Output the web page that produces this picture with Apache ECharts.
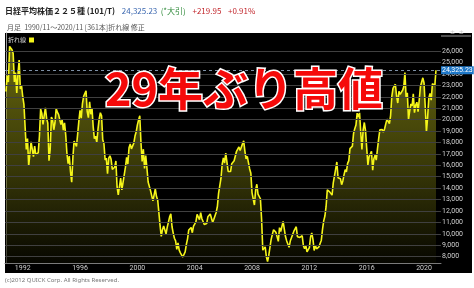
<!DOCTYPE html>
<html><head><meta charset="utf-8">
<script src="https://cdn.jsdelivr.net/npm/echarts@6/dist/echarts.min.js"></script>
<style>html,body{margin:0;padding:0;background:#fff}#c{width:474px;height:288px}</style>
</head><body><div id="c"></div>
<script>
// Monthly closes, Nikkei 225, 1990/11 - 2020/11
const v1990 = [22455, 23849];
const v1991 = [23293, 26409, 26292, 26111, 25790, 23291, 24121, 22336, 23916, 25222, 22687, 22984];
const v1992 = [22023, 21339, 19346, 17391, 18348, 15952, 15910, 18061, 17399, 16767, 17685, 16925];
const v1993 = [17024, 17113, 18591, 20919, 20552, 19590, 20380, 21027, 20106, 19704, 16408, 17417];
const v1994 = [20229, 19998, 19112, 19725, 20974, 20644, 20462, 20629, 19564, 19990, 19076, 19723];
const v1995 = [18650, 17053, 16140, 16807, 15437, 14517, 16678, 18117, 17913, 17655, 18744, 19868];
const v1996 = [20813, 20125, 21407, 22041, 21956, 22530, 20693, 20167, 21556, 20467, 21020, 19361];
const v1997 = [18330, 18557, 18003, 19151, 20069, 20605, 20331, 18229, 17888, 16459, 16636, 15259];
const v1998 = [16628, 16831, 16527, 15641, 15671, 15830, 16379, 14108, 13406, 13565, 14883, 13842];
const v1999 = [14499, 14368, 15837, 16701, 16112, 17530, 17862, 17437, 17605, 17942, 18558, 18934];
const v2000 = [19540, 19960, 20337, 17974, 16332, 17411, 15727, 16861, 15747, 14539, 14649, 13786];
const v2001 = [13843, 12884, 12999, 13934, 13262, 12969, 11861, 10714, 9775, 10367, 10697, 10543];
const v2002 = [9998, 10588, 11025, 11493, 11764, 10622, 10065, 9619, 9383, 8640, 9216, 8579];
const v2003 = [8340, 8363, 7973, 7831, 8425, 9083, 9563, 10344, 10219, 10560, 10101, 10677];
const v2004 = [10784, 11042, 11715, 11762, 11236, 11859, 11326, 11082, 10824, 10771, 10899, 11489];
const v2005 = [11388, 11741, 11669, 11009, 11277, 11584, 11900, 12414, 13574, 13607, 14872, 16111];
const v2006 = [16650, 16205, 17060, 16907, 15467, 15506, 15457, 16141, 16128, 16399, 16274, 17226];
const v2007 = [17383, 17604, 17288, 17400, 17876, 18138, 17249, 16569, 16786, 16738, 15681, 15308];
const v2008 = [13592, 13603, 12526, 13850, 14339, 13481, 13377, 13073, 11260, 8577, 8512, 8860];
const v2009 = [7994, 7568, 8110, 8828, 9523, 9958, 10357, 10493, 10133, 10035, 9346, 10546];
const v2010 = [10198, 10126, 11090, 11057, 9769, 9383, 9537, 8824, 9369, 9202, 9937, 10229];
const v2011 = [10238, 10624, 9755, 9850, 9694, 9816, 9833, 8955, 8700, 8988, 8435, 8455];
const v2012 = [8803, 9723, 10084, 9521, 8543, 9007, 8695, 8840, 8870, 8928, 9446, 10395];
const v2013 = [11139, 11559, 12398, 13861, 13775, 13677, 13668, 13389, 14456, 14328, 15662, 16291];
const v2014 = [14915, 14841, 14828, 14304, 14632, 15162, 15621, 15425, 16174, 16414, 17460, 17451];
const v2015 = [17674, 18798, 19207, 19520, 20563, 20236, 20585, 18890, 17388, 19083, 19747, 19034];
const v2016 = [17518, 16027, 16759, 16666, 17235, 15576, 16569, 16887, 16450, 17425, 18308, 19114];
const v2017 = [19041, 19119, 18909, 19197, 19651, 20033, 19925, 19646, 20356, 22012, 22725, 22765];
const v2018 = [23098, 22068, 21454, 22468, 22202, 22305, 22554, 22865, 24120, 21920, 22351, 20015];
const v2019 = [20773, 21385, 21206, 22259, 20601, 21276, 21522, 20704, 21756, 22927, 23294, 23657];
const v2020 = [23205, 21143, 18917, 20194, 21878, 22288, 21710, 23140, 23185, 22977, 24325.23];

const yearTickLabels = [1992, 1996, 2000, 2004, 2008, 2012, 2016, 2020];
const yTickValues = [8000, 9000, 10000, 11000, 12000, 13000, 14000, 15000, 16000, 17000, 18000,
  19000, 20000, 21000, 22000, 23000, 24000, 25000, 26000];
const lastValue = 24325.23;

const values = [].concat(v1990, v1991, v1992, v1993, v1994, v1995, v1996, v1997, v1998, v1999,
  v2000, v2001, v2002, v2003, v2004, v2005, v2006, v2007, v2008, v2009, v2010, v2011, v2012,
  v2013, v2014, v2015, v2016, v2017, v2018, v2019, v2020);
// index 0 = 1990/11
const startMonth = 10; // zero-based November
const seriesData = values.map((v, i) => [i, v]);
const xTickIdx = yearTickLabels.map(y => (y - 1990) * 12 - startMonth);

const chart = echarts.init(document.getElementById('c'), null, {renderer: 'canvas'});
const gridLines = yTickValues.map(v => ({yAxis: v}));

chart.setOption({
  animation: false,
  backgroundColor: '#fff',
  grid: {left: 5, right: 33, top: 33, bottom: 25, containLabel: false},
  xAxis: {
    type: 'value', min: -0.84, max: 364.2,
    axisLine: {show: true, lineStyle: {color: '#7a7a7a', width: 1}},
    axisTick: {show: false, customValues: xTickIdx},
    splitLine: {show: false},
    axisLabel: {
      customValues: xTickIdx, color: '#cfcfcf', fontSize: 7, margin: 2,
      fontFamily: 'Roboto',
      formatter: v => String(1990 + Math.floor((v + startMonth) / 12))
    }
  },
  yAxis: {
    type: 'value', position: 'right', min: 7450, max: 27580,
    axisLine: {show: true, lineStyle: {color: '#9a9a9a', width: 1}},
    axisTick: {show: true, customValues: yTickValues, length: 2, lineStyle: {color: '#bbb'}},
    splitLine: {show: false},
    axisLabel: {
      customValues: yTickValues, color: '#d0d0d0', fontSize: 7, margin: 1,
      fontFamily: 'Roboto',
      formatter: v => v.toLocaleString('en-US')
    }
  },
  series: [
    {
      type: 'line', data: [], z: 1, silent: true,
      markLine: {
        silent: true, symbol: ['none', 'none'], label: {show: false},
        lineStyle: {color: '#404040', width: 1, type: 'solid'},
        data: gridLines
      }
    },
    {
      type: 'line', data: seriesData, z: 3, showSymbol: false, symbol: 'none',
      lineStyle: {color: '#f5f51a', width: 1.6},
      areaStyle: {
        color: new echarts.graphic.LinearGradient(0, 0, 0, 1, [
          {offset: 0, color: 'rgba(175,175,25,0.85)'},
          {offset: 0.5, color: 'rgba(110,110,15,0.8)'},
          {offset: 1, color: 'rgba(10,10,0,0.9)'}
        ])
      },
      markLine: {
        silent: true, symbol: ['none', 'none'],
        lineStyle: {color: '#7d8fa5', width: 1, type: [3, 3]},
        label: {
          show: true, position: 'end', distance: 0,
          formatter: () => lastValue.toLocaleString('en-US', {minimumFractionDigits: 2}),
          color: '#fff', fontSize: 7, fontFamily: 'Roboto',
          backgroundColor: '#1f78c8', padding: [1, 1, 0, 1]
        },
        data: [{yAxis: lastValue}]
      }
    }
  ],
  graphic: [
    {type: 'rect', z: -100, shape: {x: 5, y: 33, width: 467, height: 240}, style: {fill: '#000'}},
    {type: 'line', z: 50, shape: {x1: 441, y1: 36, x2: 471, y2: 36}, style: {stroke: '#999', lineWidth: 1}},
    {type: 'text', z: 50, x: 450, y: 35, style: {text: '±  ±', fill: '#ccc', fontSize: 6, fontFamily: 'DejaVu Sans', textVerticalAlign: 'bottom'}},
    {type: 'text', z: 50, x: 8, y: 40, style: {text: '折れ線', fill: '#ddd', fontSize: 6, fontFamily: 'Noto Sans CJK JP', textVerticalAlign: 'middle'}},
    {type: 'rect', z: 50, shape: {x: 29, y: 37.5, width: 5, height: 5}, style: {fill: '#f5f51a'}},
    {type: 'text', z: 50, x: 5, y: 11, style: {
      text: '{t|日経平均株価２２５種 (101/T)}  {b|24,325.23} {g|(*大引)}  {r|+219.95}  {r|+0.91%}',
      textVerticalAlign: 'middle',
      rich: {
        t: {fontSize: 8, fontWeight: 'bold', fill: '#222', fontFamily: 'Noto Sans CJK JP'},
        b: {fontSize: 8, fill: '#3c68b0', fontFamily: 'Noto Sans CJK JP'},
        g: {fontSize: 8, fill: '#2f8a3a', fontFamily: 'Noto Sans CJK JP'},
        r: {fontSize: 8, fill: '#c2272d', fontFamily: 'Noto Sans CJK JP'}
      }
    }},
    {type: 'text', z: 50, x: 7, y: 27, style: {text: '月足  1990/11～2020/11 [361本]折れ線 修正', fill: '#555', fontSize: 7, fontFamily: 'Noto Sans CJK JP', textVerticalAlign: 'middle'}},
    {type: 'text', z: 50, x: 5, y: 280, style: {text: '(c)2012 QUICK Corp. All Rights Reserved.', fill: '#777', fontSize: 6, fontFamily: 'Noto Sans', textVerticalAlign: 'middle'}},
    {type: 'text', z: 100, x: 244, y: 89, style: {
      text: '29年ぶり高値', fill: '#f50a0a', stroke: '#ffffff', lineWidth: 3,
      fontSize: 45, fontWeight: 'bold', fontFamily: 'Noto Sans CJK JP',
      textAlign: 'center', textVerticalAlign: 'middle'
    }}
  ]
});
</script></body></html>
